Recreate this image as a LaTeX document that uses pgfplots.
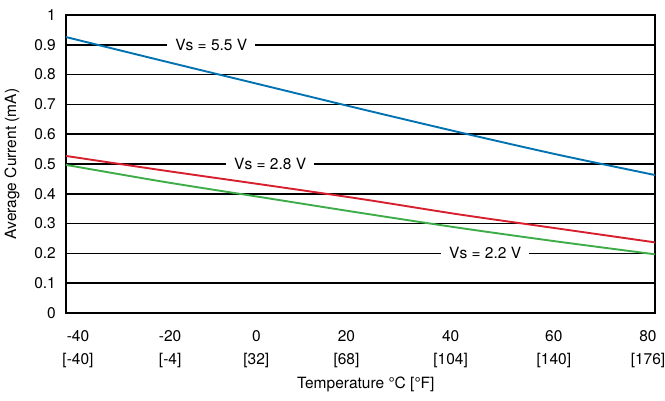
\documentclass[border=0pt]{standalone}
\usepackage{fontspec}
\setmainfont{TeX Gyre Heros}
\usepackage{pgfplots}
\pgfplotsset{compat=1.18}
\definecolor{vblue}{RGB}{0,114,178}
\definecolor{vred}{RGB}{214,32,46}
\definecolor{vgreen}{RGB}{62,172,72}
\newcommand{\cf}{\fontsize{15.5}{23}\selectfont}
\begin{document}
\begin{tikzpicture}
\begin{axis}[
    name=ax,
    at={(0,0)}, anchor=south west,
    scale only axis,
    width=589pt, height=298pt,
    xmin=-40, xmax=80,
    ymin=0, ymax=1,
    xtick={-40,-20,0,20,40,60,80},
    xticklabels={{-40\\{[-40]}},{-20\\{[-4]}},{0\\{[32]}},{20\\{[68]}},{40\\{[104]}},{60\\{[140]}},{80\\{[176]}}},
    ytick={0,0.1,...,1},
    yticklabels={0,0.1,0.2,0.3,0.4,0.5,0.6,0.7,0.8,0.9,1},
    major tick length=0pt,
    axis line style={black, line width=1.5pt},
    ymajorgrids=true,
    grid style={black, line width=1.5pt},
    tick label style={font=\cf},
    xticklabel style={align=center, anchor=north, inner sep=0pt, yshift=-17pt,
        xshift={{12,6,-6,-14,-8,-3,-7}[\ticknum]*1pt}},
    yticklabel style={anchor=east, inner sep=0pt, xshift=-10pt},
    xlabel={Temperature °C [°F]},
    ylabel={Average Current (mA)},
    label style={font=\cf},
    xlabel style={at={(axis description cs:0.509,0)}, anchor=center, yshift=-71pt},
    ylabel style={at={(axis description cs:0,0.5)}, anchor=center, yshift=54pt},
    /pgf/number format/assume math mode=true,
]
\addplot[vblue, line width=1.9pt, smooth] coordinates {
    (-40,0.926)(-20,0.845)(0,0.765)(20,0.685)(40,0.607)(60,0.532)(80,0.463)
};
\addplot[vred, line width=1.9pt, smooth] coordinates {
    (-40,0.527)(-20,0.478)(0,0.431)(20,0.383)(40,0.331)(60,0.284)(80,0.237)
};
\addplot[vgreen, line width=1.9pt, smooth] coordinates {
    (-40,0.497)(-20,0.440)(0,0.388)(20,0.336)(40,0.286)(60,0.240)(80,0.197)
};
\node[fill=white, inner xsep=8pt, inner ysep=2pt, font=\cf] at (axis cs:-10.4,0.9) {Vs = 5.5 V};
\node[fill=white, inner xsep=8pt, inner ysep=2pt, font=\cf] at (axis cs:1.6,0.5) {Vs = 2.8 V};
\node[fill=white, inner xsep=8pt, inner ysep=2pt, font=\cf] at (axis cs:45.4,0.2) {Vs = 2.2 V};
\end{axis}
\pgfresetboundingbox
\path (ax.south west) ++(-66pt,-87pt) rectangle ++(665pt,400pt);
\end{tikzpicture}
\end{document}
